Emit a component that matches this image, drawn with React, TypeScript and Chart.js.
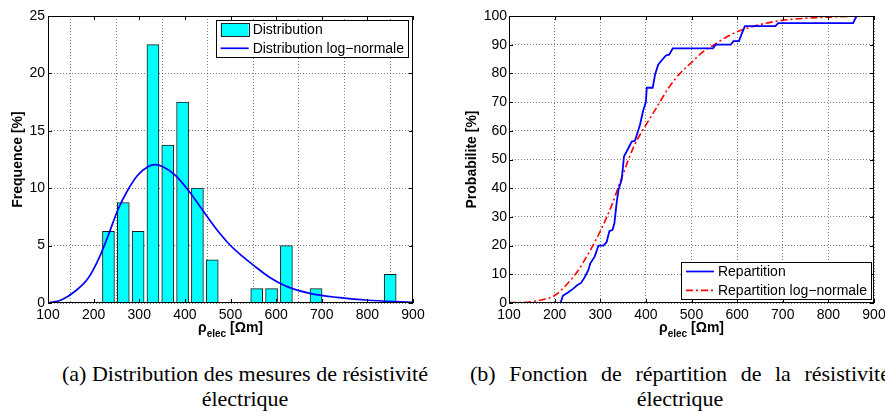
import React, { useEffect, useRef } from "react";
import { Chart, registerables } from "chart.js";

Chart.register(...registerables);

// ---------- data ----------
const xTickValues = [100, 200, 300, 400, 500, 600, 700, 800, 900];

// (a) histogram bins (centre, frequency in %)
const binCenters = [232.5, 265, 297.5, 330, 362.5, 395, 427.5, 460, 557.5, 590, 622.5, 687.5, 850];
const binFreq = [6.25, 8.75, 6.25, 22.5, 13.75, 17.5, 10, 3.75, 1.25, 1.25, 5, 1.25, 2.5];

// (a) log-normal density curve
const pdfX = [100, 129, 158, 188, 210, 231, 253, 275, 297, 319, 334, 352, 378, 407, 436, 465, 499, 525, 550, 587, 623, 674, 733, 798, 857, 900];
const pdfY = [0, 0.26, 0.98, 2.15, 3.75, 5.78, 8.1, 9.84, 11.15, 11.87, 12.05, 11.87, 11.15, 9.84, 8.25, 6.65, 5.05, 4.1, 3.3, 2.2, 1.45, 0.84, 0.49, 0.26, 0.12, 0.05];

// (b) empirical cumulative distribution
const cdfEmpX = [100, 213, 218, 230, 241, 250, 258, 266, 274, 278, 288, 296, 307, 314, 320, 327, 331, 336, 340, 347, 352, 361, 369, 376, 387, 394, 400, 402, 415, 420, 427, 437, 444, 451, 459, 547, 553, 586, 592, 604, 610, 617, 684, 690, 854, 862, 900];
const cdfEmpY = [0, 0, 2.5, 3.75, 5, 6.25, 7, 9, 11.5, 13.75, 16.25, 20, 20, 21.25, 25, 25.5, 27.8, 35, 39.5, 43, 51, 53.75, 56.25, 56.5, 62, 67, 70, 75, 75, 79.5, 83, 85, 86.25, 86.5, 88.75, 88.75, 90, 90, 91.25, 91.25, 93.75, 96.5, 96.5, 97.5, 97.5, 100, 100];

// (b) log-normal cumulative distribution
const cdfLogX = [100, 125, 150, 175, 200, 225, 250, 275, 300, 325, 350, 375, 400, 425, 450, 475, 500, 525, 550, 575, 600, 650, 700, 750, 800, 850, 900];
const cdfLogY = [0.2, 0.2, 0.5, 1.2, 2.6, 6.2, 11, 17.5, 25, 34, 45, 55, 62, 68.5, 75, 80, 83.8, 87.5, 90, 92.5, 94.5, 97, 98.5, 99.2, 99.6, 99.9, 100];

const labelsA = { y: "Frequence [%]", bar: "Distribution", line: "Distribution log\u2212normale" };
const labelsB = { y: "Probabilite [%]", emp: "Repartition", log: "Repartition log\u2212normale" };
const captionA = ["(a) Distribution des mesures de r\u00e9sistivit\u00e9", "\u00e9lectrique"];
const captionB = ["(b) Fonction de r\u00e9partition de la r\u00e9sistivit\u00e9", "\u00e9lectrique"];

// ---------- styles ----------
const SANS = '"Liberation Sans", Arial, Helvetica, sans-serif';
const tickFont = { family: SANS, size: 14 };
const titleFont = { family: SANS, size: 14, weight: "bold" as const };
const gridColor = "rgba(0,0,0,0.5)";

type LegendItem = { label: string; kind: "box" | "line"; color: string; dash?: number[] };

function framePlugin(id: string, legend: LegendItem[], corner: "tr" | "br") {
  return {
    id,
    afterDraw(chart: any) {
      const { ctx, chartArea: a, scales } = chart;
      ctx.save();
      // box
      ctx.strokeStyle = "#000";
      ctx.lineWidth = 1;
      ctx.setLineDash([]);
      ctx.strokeRect(a.left + 0.5, a.top + 0.5, a.right - a.left - 1, a.bottom - a.top - 1);
      // inward ticks
      const tl = 4;
      ctx.beginPath();
      for (const t of scales.x.ticks) {
        const px = Math.round(scales.x.getPixelForValue(t.value)) + 0.5;
        ctx.moveTo(px, a.bottom);
        ctx.lineTo(px, a.bottom - tl);
        ctx.moveTo(px, a.top);
        ctx.lineTo(px, a.top + tl);
      }
      for (const t of scales.y.ticks) {
        const py = Math.round(scales.y.getPixelForValue(t.value)) + 0.5;
        ctx.moveTo(a.left, py);
        ctx.lineTo(a.left + tl, py);
        ctx.moveTo(a.right, py);
        ctx.lineTo(a.right - tl, py);
      }
      ctx.stroke();

      // x title  rho_elec [Ohm m]
      const cx = (a.left + a.right) / 2;
      const base = a.bottom + 29;
      const big = `bold 14px ${SANS}`;
      const small = `bold 10px ${SANS}`;
      ctx.fillStyle = "#000";
      ctx.textBaseline = "alphabetic";
      ctx.textAlign = "left";
      ctx.font = big;
      const w1 = ctx.measureText("\u03c1").width;
      const w3 = ctx.measureText(" [\u03a9m]").width;
      ctx.font = small;
      const w2 = ctx.measureText("elec").width;
      let x = cx - (w1 + w2 + w3) / 2;
      ctx.font = big;
      ctx.fillText("\u03c1", x, base);
      x += w1;
      ctx.font = small;
      ctx.fillText("elec", x, base + 5);
      x += w2;
      ctx.font = big;
      ctx.fillText(" [\u03a9m]", x, base);

      // legend
      ctx.font = `14px ${SANS}`;
      const tw = Math.max(...legend.map((l) => ctx.measureText(l.label).width));
      const w = 5 + 28 + 4 + tw + 4;
      const h = 37;
      const x0 = corner === "tr" ? a.right - 5 - w : a.right - 3 - w;
      const y0 = corner === "tr" ? a.top + 4 : a.bottom - 4 - h;
      ctx.fillStyle = "#fff";
      ctx.fillRect(x0, y0, w, h);
      ctx.strokeStyle = "#000";
      ctx.lineWidth = 1;
      ctx.strokeRect(Math.round(x0) + 0.5, Math.round(y0) + 0.5, Math.round(w), Math.round(h));
      legend.forEach((l, i) => {
        const y = y0 + 9.5 + i * 18.8;
        if (l.kind === "box") {
          ctx.fillStyle = l.color;
          ctx.fillRect(x0 + 5, y - 6.5, 28, 13);
          ctx.strokeStyle = "#222";
          ctx.setLineDash([]);
          ctx.strokeRect(Math.round(x0 + 5) + 0.5, Math.round(y - 6.5) + 0.5, 28, 13);
        } else {
          ctx.strokeStyle = l.color;
          ctx.lineWidth = 1.7;
          ctx.setLineDash(l.dash || []);
          ctx.beginPath();
          ctx.moveTo(x0 + 5, y);
          ctx.lineTo(x0 + 33, y);
          ctx.stroke();
          ctx.setLineDash([]);
          ctx.lineWidth = 1;
        }
        ctx.fillStyle = "#000";
        ctx.textBaseline = "middle";
        ctx.fillText(l.label, x0 + 37, y + 0.5);
      });
      ctx.restore();
    },
  };
}

function xScale() {
  return {
    type: "linear" as const,
    min: 100,
    max: 900,
    offset: false,
    afterBuildTicks: (s: any) => {
      s.ticks = xTickValues.map((v) => ({ value: v }));
    },
    ticks: { font: tickFont, color: "#000", padding: 4, maxRotation: 0, autoSkip: false },
    grid: { color: gridColor, drawTicks: false, lineWidth: 1 },
    border: { display: false, dash: [1, 2] },
    afterFit: (s: any) => {
      s.height = 42;
      s.paddingLeft = 0;
      s.paddingRight = 0;
    },
  };
}

function configA(): any {
  return {
    type: "bar",
    data: {
      datasets: [
        {
          type: "line",
          label: labelsA.line,
          data: pdfX.map((x, i) => ({ x, y: pdfY[i] })),
          borderColor: "#0000ff",
          borderWidth: 1.7,
          pointRadius: 0,
          cubicInterpolationMode: "monotone",
          order: 0,
        },
        {
          type: "bar",
          label: labelsA.bar,
          data: binCenters.map((x, i) => ({ x, y: binFreq[i] })),
          backgroundColor: "#00ffff",
          borderColor: "#1a1a1a",
          borderWidth: 1,
          barThickness: 12,
          order: 1,
        },
      ],
    },
    options: {
      responsive: false,
      animation: false,
      devicePixelRatio: 1,
      layout: { padding: { top: 16, right: 27, left: 0, bottom: 0 } },
      plugins: { legend: { display: false }, tooltip: { enabled: false } },
      scales: {
        x: xScale(),
        y: {
          type: "linear",
          min: 0,
          max: 25,
          ticks: { stepSize: 5, font: tickFont, color: "#000", padding: 3 },
          grid: { color: gridColor, drawTicks: false },
          border: { display: false, dash: [1, 2] },
          title: { display: true, text: labelsA.y, font: titleFont, color: "#000", padding: { top: 10, bottom: 0 } },
          afterFit: (s: any) => {
            s.width = 48;
          },
        },
      },
    },
    plugins: [
      framePlugin("frameA", [
        { label: labelsA.bar, kind: "box", color: "#00ffff" },
        { label: labelsA.line, kind: "line", color: "#0000ff" },
      ], "tr"),
    ],
  };
}

function configB(): any {
  return {
    type: "line",
    data: {
      datasets: [
        {
          label: labelsB.emp,
          data: cdfEmpX.map((x, i) => ({ x, y: cdfEmpY[i] })),
          borderColor: "#0000ff",
          borderWidth: 1.8,
          pointRadius: 0,
          tension: 0,
          order: 0,
        },
        {
          label: labelsB.log,
          data: cdfLogX.map((x, i) => ({ x, y: cdfLogY[i] })),
          borderColor: "#ff0000",
          borderWidth: 1.6,
          borderDash: [7, 3, 2, 3],
          pointRadius: 0,
          cubicInterpolationMode: "monotone",
          order: 1,
        },
      ],
    },
    options: {
      responsive: false,
      animation: false,
      devicePixelRatio: 1,
      layout: { padding: { top: 16, right: 11, left: 0, bottom: 0 } },
      plugins: { legend: { display: false }, tooltip: { enabled: false } },
      scales: {
        x: xScale(),
        y: {
          type: "linear",
          min: 0,
          max: 100,
          ticks: { stepSize: 10, font: tickFont, color: "#000", padding: 2 },
          grid: { color: gridColor, drawTicks: false },
          border: { display: false, dash: [1, 2] },
          title: { display: true, text: labelsB.y, font: titleFont, color: "#000", padding: { top: 24, bottom: 0 } },
          afterFit: (s: any) => {
            s.width = 69;
          },
        },
      },
    },
    plugins: [
      framePlugin("frameB", [
        { label: labelsB.emp, kind: "line", color: "#0000ff" },
        { label: labelsB.log, kind: "line", color: "#ff0000", dash: [7, 3, 2, 3] },
      ], "br"),
    ],
  };
}

function ChartCanvas(props: { make: () => any; left: number; width: number; height: number }) {
  const ref = useRef<HTMLCanvasElement>(null);
  useEffect(() => {
    const chart = new Chart(ref.current as HTMLCanvasElement, props.make());
    return () => chart.destroy();
  }, []);
  return (
    <canvas
      ref={ref}
      width={props.width}
      height={props.height}
      style={{ position: "absolute", left: props.left, top: 0, width: props.width, height: props.height }}
    />
  );
}

// LaTeX-like subcaption: first line justified to the caption width, last line centred
function Caption(props: { lines: string[]; left: number; width: number }) {
  return (
    <div
      style={{
        position: "absolute",
        left: props.left,
        top: 360.5,
        width: props.width,
        fontFamily: '"Liberation Serif", "Times New Roman", serif',
        fontSize: 22,
        lineHeight: "25px",
        color: "#000",
      }}
    >
      <div style={{ textAlign: "justify", textAlignLast: "justify", whiteSpace: "normal" } as any}>{props.lines[0]}</div>
      <div style={{ textAlign: "center", whiteSpace: "nowrap" }}>{props.lines[1]}</div>
    </div>
  );
}

export default function App() {
  return (
    <div
      style={{
        position: "fixed",
        left: 0,
        top: 0,
        width: 885,
        height: 412,
        overflow: "hidden",
        background: "#fff",
      }}
    >
      <ChartCanvas make={configA} left={0} width={440} height={345} />
      <ChartCanvas make={configB} left={440} width={445} height={345} />
      <Caption lines={captionA} left={62} width={366} />
      <Caption lines={captionB} left={470} width={420} />
    </div>
  );
}
